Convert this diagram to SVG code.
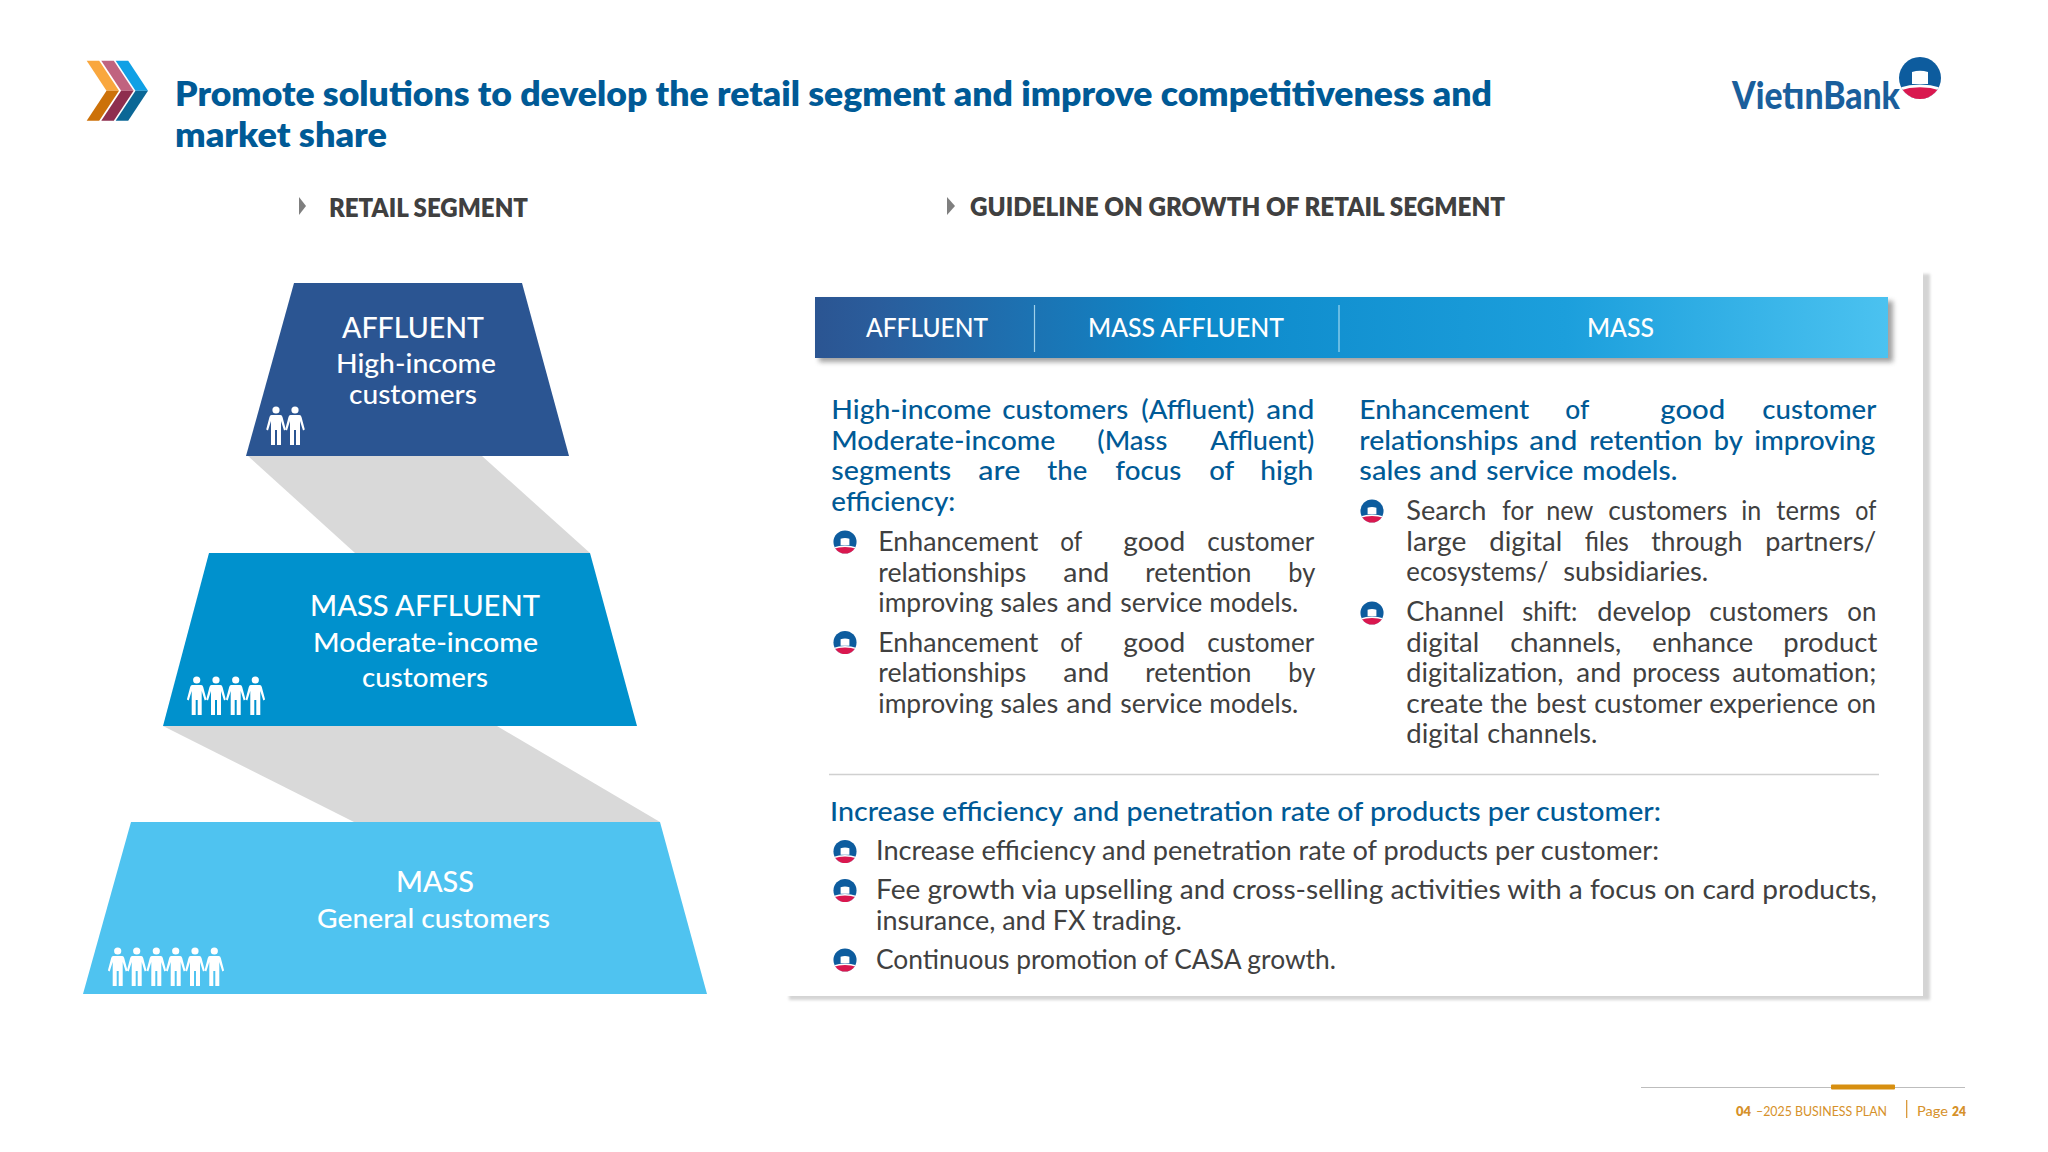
<svg xmlns="http://www.w3.org/2000/svg" xmlns:xlink="http://www.w3.org/1999/xlink" width="2048" height="1152" viewBox="0 0 2048 1152">
<style>
text{font-family:"Lato","Liberation Sans",sans-serif}
.h{font-size:26px;font-weight:500;fill:#005a96;transform:translate(-.7px,1px)}
.d{font-size:26px;font-weight:400;fill:#404040;transform:translate(-.7px,1px)}
.w{fill:#fff;font-size:28px;font-weight:500}
.w2{fill:#fff;font-size:26px;font-weight:500}
.sec{font-size:26px;font-weight:800;fill:#404040}
.title{font-size:34px;font-weight:800;fill:#005a96}
.f{font-size:13px;fill:#d6912a}
.fb{font-size:13px;font-weight:800;fill:#d6912a}
.tri{fill:#7f7f7f}
</style>
<defs>
<linearGradient id="bar" x1="0" x2="1" y1="0" y2="0"><stop offset="0" stop-color="#2b5592"/><stop offset=".06" stop-color="#2a5d9c"/><stop offset=".35" stop-color="#0d89ca"/><stop offset=".7" stop-color="#1c9fdc"/><stop offset="1" stop-color="#4bc2f0"/></linearGradient>
<filter id="soft" x="-5%" y="-5%" width="110%" height="110%"><feGaussianBlur stdDeviation="1.5"/></filter>
<filter id="soft2" x="-5%" y="-30%" width="110%" height="160%"><feGaussianBlur stdDeviation="2.5"/></filter>
<clipPath id="disc"><circle r="21"/></clipPath>
<g id="mark">
<circle r="21" fill="#0d5c9e"/>
<g clip-path="url(#disc)">
<path d="M-22 10Q0 3 22 10V22H-22Z" fill="#fff"/>
<path d="M-22 13Q0 5.5 22 13V22H-22Z" fill="#d9184f"/>
<path d="M-8 6V-6Q0 -8.5 8 -6V6Z" fill="#fff"/>
</g>
</g>
<g id="bul" transform="scale(.55)"><use href="#mark"/></g>
<g id="pp" fill="#fff"><circle r="3.6"/><path d="M-4.5 5H4.5Q6 5 6.5 7L9.8 19.5L8 20.5L5 11V35H1V20H-1V35H-5V11L-8 20.5L-9.8 19.5L-6.5 7Q-6 5 -4.5 5Z"/></g>
</defs>
<rect width="2048" height="1152" fill="#fff"/>

<g id="chevrons">
<polygon points="86.7,60.7 99.2,60.7 119,90.7 106.5,90.7" fill="#f9a73e"/><polygon points="106.5,90.7 119,90.7 99.2,120.7 86.7,120.7" fill="#cc7109"/>
<polygon points="101.3,60.7 113.8,60.7 133.6,90.7 121.1,90.7" fill="#c0637f"/><polygon points="121.1,90.7 133.6,90.7 113.8,120.7 101.3,120.7" fill="#8e2e4e"/>
<polygon points="115.7,60.7 128.2,60.7 148,90.7 135.5,90.7" fill="#0fa0e5"/><polygon points="135.5,90.7 148,90.7 128.2,120.7 115.7,120.7" fill="#0b6796"/>
</g>
<g id="title">
<text class="title" x="175" y="105.5" textLength="1317" lengthAdjust="spacingAndGlyphs">Promote solutions to develop the retail segment and improve competitiveness and</text>
<text class="title" x="175" y="146.5" textLength="212" lengthAdjust="spacingAndGlyphs">market share</text>
</g>
<g id="logo">
<use href="#mark" transform="translate(1920 78)"/>
<text x="1732" y="109" textLength="168" lengthAdjust="spacingAndGlyphs" font-size="37" font-weight="900" fill="#1a5f9c">VietınBank</text>
</g>
<g id="section-left"><polygon class="tri" points="299,197 306,206 299,215"/><text class="sec" x="329" y="217" textLength="199" lengthAdjust="spacingAndGlyphs">RETAIL SEGMENT</text></g>
<g id="section-right"><polygon class="tri" points="947,197 955,206 947,215"/><text class="sec" x="970" y="215.5" textLength="535" lengthAdjust="spacingAndGlyphs">GUIDELINE ON GROWTH OF RETAIL SEGMENT</text></g>

<g id="connectors">
<polygon points="248,456 355,553 590,553 482,456" fill="#d9d9d9"/>
<polygon points="163,726 354,822 660,822 497,726" fill="#d9d9d9"/>
</g>
<g id="node-affluent">
<polygon points="294,283 522,283 569,456 246,456" fill="#2b5592"/>
<text class="w" x="342" y="338" textLength="142" lengthAdjust="spacingAndGlyphs">AFFLUENT</text>
<text class="w2" x="336" y="373" textLength="160" lengthAdjust="spacingAndGlyphs">High-income</text>
<text class="w2" x="349" y="404" textLength="128" lengthAdjust="spacingAndGlyphs">customers</text>
<use href="#pp" x="276" y="410"/><use href="#pp" x="295" y="410"/>
</g>
<g id="node-mass-affluent">
<polygon points="209,553 590,553 637,726 163,726" fill="#0091cd"/>
<text class="w" x="310" y="616" textLength="230" lengthAdjust="spacingAndGlyphs">MASS AFFLUENT</text>
<text class="w2" x="313" y="652" textLength="225" lengthAdjust="spacingAndGlyphs">Moderate-income</text>
<text class="w2" x="362" y="687" textLength="126" lengthAdjust="spacingAndGlyphs">customers</text>
<use href="#pp" x="196.7" y="680"/><use href="#pp" x="216" y="680"/><use href="#pp" x="235.7" y="680"/><use href="#pp" x="255.3" y="680"/>
</g>
<g id="node-mass">
<polygon points="131,822 660,822 707,994 83,994" fill="#4fc3f0"/>
<text class="w" x="396" y="892" textLength="78" lengthAdjust="spacingAndGlyphs">MASS</text>
<text class="w2" x="317" y="928" textLength="233" lengthAdjust="spacingAndGlyphs">General customers</text>
<use href="#pp" x="117.7" y="951"/><use href="#pp" x="136.7" y="951"/><use href="#pp" x="156.3" y="951"/><use href="#pp" x="175.7" y="951"/><use href="#pp" x="195" y="951"/><use href="#pp" x="214.3" y="951"/>
</g>

<g id="panel">
<rect x="789" y="274" width="1141" height="726" fill="#d4d4d4" filter="url(#soft)"/>
<rect x="770" y="262" width="1153" height="734" fill="#fff"/>
<line x1="829" y1="774.5" x2="1879" y2="774.5" stroke="#d0d0d0" stroke-width="1.5"/>
</g>
<g id="header-bar">
<rect x="819" y="301" width="1074" height="61" fill="#555" opacity=".55" filter="url(#soft2)"/>
<rect x="815" y="297" width="1073" height="61" fill="url(#bar)"/>
<line x1="1034.5" y1="305" x2="1034.5" y2="352" stroke="#9fd0ea" stroke-width="1.2"/>
<line x1="1339" y1="305" x2="1339" y2="352" stroke="#9fd8f0" stroke-width="1.2"/>
<text class="w2" x="866" y="337" textLength="122" lengthAdjust="spacingAndGlyphs">AFFLUENT</text>
<text class="w2" x="1088" y="337" textLength="196" lengthAdjust="spacingAndGlyphs">MASS AFFLUENT</text>
<text class="w2" x="1587" y="337" textLength="67" lengthAdjust="spacingAndGlyphs">MASS</text>
</g>

<g id="left-column">
<text class="h" x="832" y="418" textLength="160" lengthAdjust="spacingAndGlyphs">High-income</text><text class="h" x="1003" y="418" textLength="126" lengthAdjust="spacingAndGlyphs">customers</text><text class="h" x="1142" y="418" textLength="113" lengthAdjust="spacingAndGlyphs">(Affluent)</text><text class="h" x="1267" y="418" textLength="48" lengthAdjust="spacingAndGlyphs">and</text>
<text class="h" x="832" y="449" textLength="224" lengthAdjust="spacingAndGlyphs">Moderate-income</text><text class="h" x="1098" y="449" textLength="70" lengthAdjust="spacingAndGlyphs">(Mass</text><text class="h" x="1211" y="449" textLength="104" lengthAdjust="spacingAndGlyphs">Affluent)</text>
<text class="h" x="832" y="479" textLength="120" lengthAdjust="spacingAndGlyphs">segments</text><text class="h" x="979" y="479" textLength="42" lengthAdjust="spacingAndGlyphs">are</text><text class="h" x="1048" y="479" textLength="40" lengthAdjust="spacingAndGlyphs">the</text><text class="h" x="1116" y="479" textLength="66" lengthAdjust="spacingAndGlyphs">focus</text><text class="h" x="1210" y="479" textLength="25" lengthAdjust="spacingAndGlyphs">of</text><text class="h" x="1261" y="479" textLength="53" lengthAdjust="spacingAndGlyphs">high</text>
<text class="h" x="832" y="510" textLength="124" lengthAdjust="spacingAndGlyphs">efficiency:</text>
<use href="#bul" transform="translate(845 542)"/>
<text class="d" x="879" y="550" textLength="160" lengthAdjust="spacingAndGlyphs">Enhancement</text><text class="d" x="1061" y="550" textLength="22" lengthAdjust="spacingAndGlyphs">of</text><text class="d" x="1124" y="550" textLength="62" lengthAdjust="spacingAndGlyphs">good</text><text class="d" x="1208" y="550" textLength="107" lengthAdjust="spacingAndGlyphs">customer</text>
<text class="d" x="879" y="581" textLength="148" lengthAdjust="spacingAndGlyphs">relationships</text><text class="d" x="1064" y="581" textLength="46" lengthAdjust="spacingAndGlyphs">and</text><text class="d" x="1146" y="581" textLength="106" lengthAdjust="spacingAndGlyphs">retention</text><text class="d" x="1289" y="581" textLength="27" lengthAdjust="spacingAndGlyphs">by</text>
<text class="d" x="879" y="611" textLength="115" lengthAdjust="spacingAndGlyphs">improving</text><text class="d" x="1001" y="611" textLength="58" lengthAdjust="spacingAndGlyphs">sales</text><text class="d" x="1067" y="611" textLength="46" lengthAdjust="spacingAndGlyphs">and</text><text class="d" x="1121" y="611" textLength="82" lengthAdjust="spacingAndGlyphs">service</text><text class="d" x="1210" y="611" textLength="89" lengthAdjust="spacingAndGlyphs">models.</text>
<use href="#bul" transform="translate(845 642.5)"/>
<text class="d" x="879" y="651" textLength="160" lengthAdjust="spacingAndGlyphs">Enhancement</text><text class="d" x="1061" y="651" textLength="22" lengthAdjust="spacingAndGlyphs">of</text><text class="d" x="1124" y="651" textLength="62" lengthAdjust="spacingAndGlyphs">good</text><text class="d" x="1208" y="651" textLength="107" lengthAdjust="spacingAndGlyphs">customer</text>
<text class="d" x="879" y="681" textLength="148" lengthAdjust="spacingAndGlyphs">relationships</text><text class="d" x="1064" y="681" textLength="46" lengthAdjust="spacingAndGlyphs">and</text><text class="d" x="1146" y="681" textLength="106" lengthAdjust="spacingAndGlyphs">retention</text><text class="d" x="1289" y="681" textLength="27" lengthAdjust="spacingAndGlyphs">by</text>
<text class="d" x="879" y="712" textLength="115" lengthAdjust="spacingAndGlyphs">improving</text><text class="d" x="1001" y="712" textLength="58" lengthAdjust="spacingAndGlyphs">sales</text><text class="d" x="1067" y="712" textLength="46" lengthAdjust="spacingAndGlyphs">and</text><text class="d" x="1121" y="712" textLength="82" lengthAdjust="spacingAndGlyphs">service</text><text class="d" x="1210" y="712" textLength="89" lengthAdjust="spacingAndGlyphs">models.</text>
</g>

<g id="right-column">
<text class="h" x="1360" y="418" textLength="170" lengthAdjust="spacingAndGlyphs">Enhancement</text><text class="h" x="1566" y="418" textLength="24" lengthAdjust="spacingAndGlyphs">of</text><text class="h" x="1661" y="418" textLength="65" lengthAdjust="spacingAndGlyphs">good</text><text class="h" x="1763" y="418" textLength="114" lengthAdjust="spacingAndGlyphs">customer</text>
<text class="h" x="1360" y="449" textLength="159" lengthAdjust="spacingAndGlyphs">relationships</text><text class="h" x="1530" y="449" textLength="48" lengthAdjust="spacingAndGlyphs">and</text><text class="h" x="1590" y="449" textLength="113" lengthAdjust="spacingAndGlyphs">retention</text><text class="h" x="1714.5" y="449" textLength="29" lengthAdjust="spacingAndGlyphs">by</text><text class="h" x="1755" y="449" textLength="121" lengthAdjust="spacingAndGlyphs">improving</text>
<text class="h" x="1360" y="479" textLength="62" lengthAdjust="spacingAndGlyphs">sales</text><text class="h" x="1430" y="479" textLength="48" lengthAdjust="spacingAndGlyphs">and</text><text class="h" x="1487" y="479" textLength="87" lengthAdjust="spacingAndGlyphs">service</text><text class="h" x="1583" y="479" textLength="95" lengthAdjust="spacingAndGlyphs">models.</text>
<use href="#bul" transform="translate(1372 511)"/>
<text class="d" x="1407" y="519" textLength="80" lengthAdjust="spacingAndGlyphs">Search</text><text class="d" x="1503" y="519" textLength="31" lengthAdjust="spacingAndGlyphs">for</text><text class="d" x="1547" y="519" textLength="47" lengthAdjust="spacingAndGlyphs">new</text><text class="d" x="1609" y="519" textLength="119" lengthAdjust="spacingAndGlyphs">customers</text><text class="d" x="1742" y="519" textLength="20" lengthAdjust="spacingAndGlyphs">in</text><text class="d" x="1777" y="519" textLength="64" lengthAdjust="spacingAndGlyphs">terms</text><text class="d" x="1856" y="519" textLength="21" lengthAdjust="spacingAndGlyphs">of</text>
<text class="d" x="1407" y="550" textLength="60" lengthAdjust="spacingAndGlyphs">large</text><text class="d" x="1490" y="550" textLength="73" lengthAdjust="spacingAndGlyphs">digital</text><text class="d" x="1585.5" y="550" textLength="44" lengthAdjust="spacingAndGlyphs">files</text><text class="d" x="1652" y="550" textLength="91" lengthAdjust="spacingAndGlyphs">through</text><text class="d" x="1766" y="550" textLength="111" lengthAdjust="spacingAndGlyphs">partners/</text>
<text class="d" x="1407" y="580" textLength="142" lengthAdjust="spacingAndGlyphs">ecosystems/</text><text class="d" x="1564" y="580" textLength="145" lengthAdjust="spacingAndGlyphs">subsidiaries.</text>
<use href="#bul" transform="translate(1372 613)"/>
<text class="d" x="1407" y="620" textLength="98" lengthAdjust="spacingAndGlyphs">Channel</text><text class="d" x="1523" y="620" textLength="55" lengthAdjust="spacingAndGlyphs">shift:</text><text class="d" x="1598" y="620" textLength="94" lengthAdjust="spacingAndGlyphs">develop</text><text class="d" x="1710" y="620" textLength="119" lengthAdjust="spacingAndGlyphs">customers</text><text class="d" x="1848" y="620" textLength="29" lengthAdjust="spacingAndGlyphs">on</text>
<text class="d" x="1407" y="651" textLength="73" lengthAdjust="spacingAndGlyphs">digital</text><text class="d" x="1511" y="651" textLength="111" lengthAdjust="spacingAndGlyphs">channels,</text><text class="d" x="1653" y="651" textLength="101" lengthAdjust="spacingAndGlyphs">enhance</text><text class="d" x="1784" y="651" textLength="94" lengthAdjust="spacingAndGlyphs">product</text>
<text class="d" x="1407" y="681" textLength="157" lengthAdjust="spacingAndGlyphs">digitalization,</text><text class="d" x="1577" y="681" textLength="45" lengthAdjust="spacingAndGlyphs">and</text><text class="d" x="1633" y="681" textLength="88" lengthAdjust="spacingAndGlyphs">process</text><text class="d" x="1733" y="681" textLength="144" lengthAdjust="spacingAndGlyphs">automation;</text>
<text class="d" x="1407" y="712" textLength="77" lengthAdjust="spacingAndGlyphs">create</text><text class="d" x="1491" y="712" textLength="37" lengthAdjust="spacingAndGlyphs">the</text><text class="d" x="1537" y="712" textLength="50" lengthAdjust="spacingAndGlyphs">best</text><text class="d" x="1595" y="712" textLength="108" lengthAdjust="spacingAndGlyphs">customer</text><text class="d" x="1710" y="712" textLength="129" lengthAdjust="spacingAndGlyphs">experience</text><text class="d" x="1847.6" y="712" textLength="29" lengthAdjust="spacingAndGlyphs">on</text>
<text class="d" x="1407" y="742" textLength="73" lengthAdjust="spacingAndGlyphs">digital</text><text class="d" x="1488" y="742" textLength="110" lengthAdjust="spacingAndGlyphs">channels.</text>
</g>

<g id="bottom-block">
<text class="h" x="830.7" y="820" textLength="233" lengthAdjust="spacingAndGlyphs">Increase efficiency</text><text class="h" x="1073.7" y="820" textLength="588" lengthAdjust="spacingAndGlyphs">and penetration rate of products per customer:</text>
<use href="#bul" transform="translate(845 851.5)"/>
<text class="d" x="876.7" y="859" textLength="783" lengthAdjust="spacingAndGlyphs">Increase efficiency and penetration rate of products per customer:</text>
<use href="#bul" transform="translate(845 890.5)"/>
<text class="d" x="876.7" y="898" textLength="1001" lengthAdjust="spacingAndGlyphs">Fee growth via upselling and cross-selling activities with a focus on card products,</text>
<text class="d" x="876.7" y="929" textLength="306" lengthAdjust="spacingAndGlyphs">insurance, and FX trading.</text>
<use href="#bul" transform="translate(845 960)"/>
<text class="d" x="876.7" y="968" textLength="460" lengthAdjust="spacingAndGlyphs">Continuous promotion of CASA growth.</text>
</g>

<g id="footer">
<line x1="1641" y1="1087.5" x2="1965" y2="1087.5" stroke="#bdbdbd" stroke-width="1.2"/>
<rect x="1831" y="1084.5" width="64" height="5" rx="1" fill="#d78f10"/>
<text class="fb" x="1736" y="1115.5" textLength="15" lengthAdjust="spacingAndGlyphs">04</text>
<text class="f" x="1756" y="1115.5" textLength="131" lengthAdjust="spacingAndGlyphs">–2025 BUSINESS PLAN</text>
<line x1="1906.7" y1="1100" x2="1906.7" y2="1118" stroke="#d6912a" stroke-width="1.2"/>
<text class="f" x="1917" y="1115.5" textLength="31" lengthAdjust="spacingAndGlyphs">Page</text>
<text class="fb" x="1952" y="1115.5" textLength="14" lengthAdjust="spacingAndGlyphs">24</text>
</g>
</svg>
